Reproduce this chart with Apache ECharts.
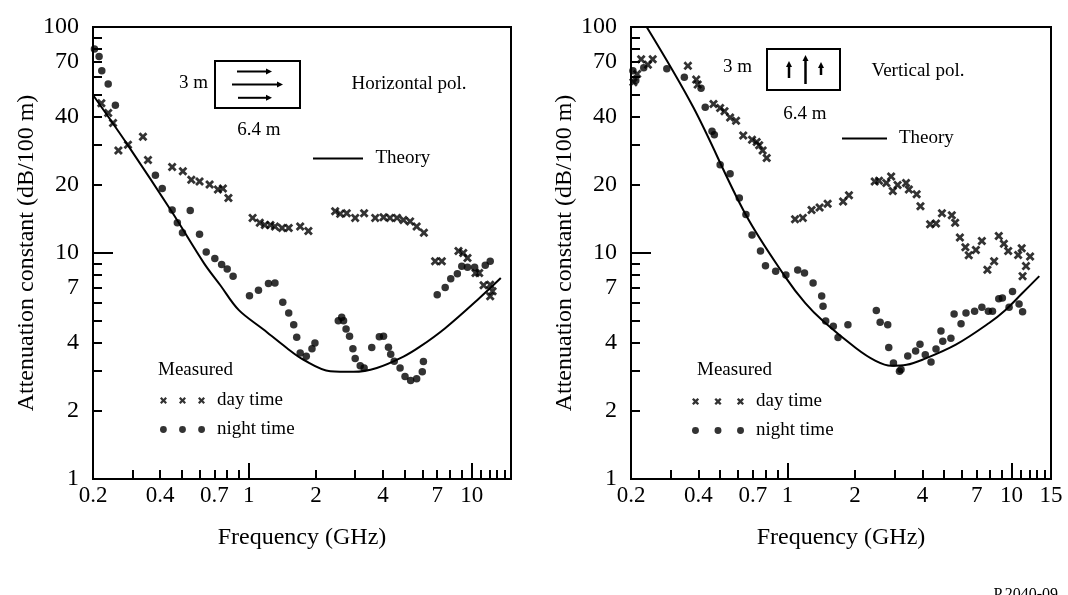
<!DOCTYPE html>
<html>
<head>
<meta charset="utf-8">
<title>Attenuation constant vs frequency</title>
<script src="https://cdn.jsdelivr.net/npm/echarts/dist/echarts.min.js"></script>
<style>
html, body { margin: 0; padding: 0; background: #fff; }
#chart { width: 1068px; height: 595px; }
</style>
</head>
<body>
<div id="chart"></div>
<script>
// 字体
const SERIF = 'Liberation Serif'

// 坐标轴范围与刻度
const X_MIN = 0.2
const X_MAX = 15
const Y_MIN = 1
const Y_MAX = 100
const xLabelsLeft = [0.2, 0.4, 0.7, 1, 2, 4, 7, 10]
const xLabelsRight = [0.2, 0.4, 0.7, 1, 2, 4, 7, 10, 15]
const xMinorTicks = [0.3, 0.4, 0.5, 0.6, 0.7, 0.8, 0.9, 2, 3, 4, 5, 6, 7, 8, 9, 11, 12, 13, 14]
const xMajorTicks = [1, 10]
const yLabels = [1, 2, 4, 7, 10, 20, 40, 70, 100]
const yMinorTicks = [2, 3, 4, 5, 6, 7, 8, 9, 20, 30, 40, 50, 60, 70, 80, 90]
const yMajorTicks = [10]

// 水平极化 - 理论曲线
const hTheoryFreq = [0.2, 0.29, 0.45, 0.63, 0.745, 0.9, 1.16, 1.48, 1.76, 2.32, 2.95, 3.75, 4.94, 5.88, 7.6, 10.6, 13.5]
const hTheoryAtt = [50, 29.5, 15.3, 9.0, 7.2, 5.6, 4.6, 3.8, 3.37, 3.0, 2.98, 3.1, 3.48, 3.86, 4.65, 6.2, 7.75]
// 水平极化 - 白天实测
const hDayFreq = [0.218, 0.234, 0.246, 0.26, 0.287, 0.335, 0.353, 0.453, 0.506, 0.552, 0.601, 0.667, 0.727, 0.765, 0.81,
	1.04, 1.12, 1.18, 1.25, 1.31, 1.41, 1.51, 1.70, 1.85, 2.44, 2.57, 2.75, 3.0, 3.29, 3.69, 4.02, 4.3, 4.62, 4.94, 5.29,
	5.66, 6.1, 6.85, 7.34, 8.72, 9.16, 9.57, 10.4, 10.8, 11.3, 12.1, 12.4, 12.1]
const hDayAtt = [46, 41.6, 37.6, 28.4, 30.1, 32.7, 25.8, 24.0, 23.0, 21.1, 20.7, 20.1, 19.1, 19.3, 17.5,
	14.3, 13.6, 13.3, 13.3, 13.1, 12.9, 12.9, 13.1, 12.5, 15.3, 14.9, 15.0, 14.3, 15.0, 14.3, 14.4, 14.3, 14.3, 14.0, 13.8,
	13.1, 12.3, 9.19, 9.19, 10.2, 10.0, 9.5, 8.16, 8.16, 7.2, 7.24, 6.77, 6.44]
// 水平极化 - 夜间实测
const hNightFreq = [0.203, 0.213, 0.219, 0.234, 0.252, 0.381, 0.409, 0.453, 0.478, 0.504, 0.546, 0.601, 0.644, 0.704, 0.755,
	0.80, 0.85, 1.007, 1.105, 1.225, 1.31, 1.42, 1.51, 1.59, 1.64, 1.70, 1.81, 1.92, 1.98, 2.52, 2.61, 2.66, 2.73, 2.83, 2.93,
	3.0, 3.16, 3.29, 3.56, 3.85, 4.02, 4.23, 4.33, 4.49, 4.77, 5.02, 5.32, 5.66, 6.0, 6.07, 7.0, 7.6, 8.05, 8.62, 9.02,
	9.57, 10.3, 11.5, 12.1]
const hNightAtt = [80, 74, 64, 56, 45, 22.1, 19.3, 15.5, 13.6, 12.3, 15.4, 12.1, 10.1, 9.45, 8.9,
	8.5, 7.9, 6.47, 6.84, 7.32, 7.36, 6.05, 5.42, 4.82, 4.24, 3.61, 3.49, 3.77, 4.0, 5.02, 5.19, 5.02, 4.61, 4.28, 3.77,
	3.41, 3.17, 3.1, 3.82, 4.26, 4.28, 3.83, 3.56, 3.32, 3.10, 2.84, 2.73, 2.78, 2.98, 3.31, 6.54, 7.04, 7.69, 8.1, 8.73,
	8.64, 8.64, 8.82, 9.19]

// 垂直极化 - 理论曲线
const vTheoryFreq = [0.235, 0.38, 0.65, 0.98, 1.2, 1.44, 2.03, 2.45, 2.9, 3.4, 4.0, 5.64, 7.94, 9.4, 11.1, 13.3]
const vTheoryAtt = [100, 44, 14.8, 7.8, 6.0, 5.0, 3.78, 3.35, 3.17, 3.2, 3.37, 3.93, 4.9, 5.6, 6.6, 7.9]
// 垂直极化 - 白天实测
const vDayFreq = [0.205, 0.213, 0.222, 0.238, 0.25, 0.359, 0.391, 0.397, 0.467, 0.50, 0.523, 0.554, 0.589, 0.634, 0.694,
	0.728, 0.747, 0.774, 0.807, 1.08, 1.17, 1.28, 1.39, 1.51, 1.77, 1.88, 2.45, 2.56, 2.76, 2.90, 2.95, 3.1, 3.38, 3.48, 3.77,
	3.92, 4.33, 4.6, 4.89, 5.41, 5.6, 5.88, 6.22, 6.44, 6.93, 7.37, 7.8, 8.36, 8.77, 9.24, 9.66, 10.7, 11.1, 11.6, 12.1, 11.2]
const vDayAtt = [57, 62, 72, 68, 72, 67.3, 58.5, 55.6, 45.6, 43.8, 42.4, 39.8, 38.5, 33.1, 31.7,
	31.0, 30.0, 28.4, 26.3, 14.1, 14.3, 15.5, 15.9, 16.5, 16.9, 18.0, 20.7, 20.9, 20.4, 21.8, 18.8, 20.0, 20.4, 19.1, 18.2,
	16.1, 13.4, 13.5, 15.0, 14.7, 13.6, 11.7, 10.6, 9.77, 10.3, 11.3, 8.44, 9.19, 11.9, 11.0, 10.2, 9.8, 10.5, 8.75, 9.65, 7.9]
// 垂直极化 - 夜间实测
const vNightFreq = [0.204, 0.21, 0.228, 0.289, 0.346, 0.411, 0.429, 0.46, 0.471, 0.50, 0.554, 0.609, 0.652, 0.694, 0.757,
	0.797, 0.885, 0.983, 1.11, 1.19, 1.30, 1.42, 1.44, 1.48, 1.60, 1.68, 1.86, 2.49, 2.59, 2.80, 2.83, 2.97, 3.16, 3.21, 3.44,
	3.73, 3.9, 4.12, 4.37, 4.60, 4.84, 4.93, 5.36, 5.54, 5.95, 6.26, 6.84, 7.37, 7.88, 8.22, 8.77, 9.1, 9.75, 10.1, 10.8, 11.2]
const vNightAtt = [64, 58, 66, 65.4, 59.9, 53.6, 44.1, 34.6, 33.4, 24.6, 22.4, 17.5, 14.8, 12.0, 10.2,
	8.78, 8.3, 8.0, 8.4, 8.15, 7.37, 6.45, 5.81, 5.0, 4.74, 4.23, 4.81, 5.56, 4.94, 4.82, 3.82, 3.26, 3.0, 3.05, 3.5,
	3.68, 3.95, 3.55, 3.29, 3.76, 4.52, 4.07, 4.2, 5.37, 4.86, 5.43, 5.52, 5.75, 5.52, 5.52, 6.27, 6.32, 5.75, 6.76, 5.94, 5.5]

const zip = (xs, ys) => xs.map((x, i) => [x, ys[i]])

// 图标
const CROSS = 'path://M0,2.2L2.2,0L5,2.8L7.8,0L10,2.2L7.2,5L10,7.8L7.8,10L5,7.2L2.2,10L0,7.8L2.8,5Z'
const LINE_ICON = 'path://M0,0H50V2H0Z'
const crossRow = (step) => {
	let d = 'path://'
	for (let k = 0; k < 3; k++) {
		const o = k * step
		d += `M${o},1.6L${o + 1.6},0L${o + 3.5},1.9L${o + 5.4},0L${o + 7},1.6L${o + 5.1},3.5L${o + 7},5.4L${o + 5.4},7L${o + 3.5},5.1L${o + 1.6},7L${o},5.4L${o + 1.9},3.5Z`
	}
	return d
}
const dotRow = (step) => {
	let d = 'path://'
	for (let k = 0; k < 3; k++) {
		const cx = 3.5 + k * step
		d += `M${cx - 3.4},3.5a3.4,3.4 0 1,0 6.8,0a3.4,3.4 0 1,0 -6.8,0Z`
	}
	return d
}

const fmt = (v) => String(+(+v).toPrecision(3))

function mainX(gi, labels) {
	return {
		type: 'log', logBase: 10, gridIndex: gi, position: 'bottom', min: X_MIN, max: X_MAX,
		name: 'Frequency (GHz)', nameLocation: 'middle', nameGap: 47,
		nameTextStyle: { fontSize: 24, fontFamily: SERIF, color: '#000' },
		axisLine: { lineStyle: { color: '#000', width: 2 } },
		axisTick: { inside: true, length: 9, customValues: xMinorTicks, lineStyle: { color: '#000', width: 2 } },
		axisLabel: { customValues: labels, fontSize: 23, fontFamily: SERIF, color: '#000', margin: 5, formatter: fmt },
		splitLine: { show: false },
	}
}
function tickX(gi) {
	return {
		type: 'log', logBase: 10, gridIndex: gi, position: 'bottom', min: X_MIN, max: X_MAX,
		axisLine: { show: false },
		axisTick: { inside: true, length: 16, customValues: xMajorTicks, lineStyle: { color: '#000', width: 2 } },
		axisLabel: { show: false },
		splitLine: { show: false },
	}
}
function mainY(gi) {
	return {
		type: 'log', logBase: 10, gridIndex: gi, position: 'left', min: Y_MIN, max: Y_MAX,
		name: 'Attenuation constant (dB/100 m)', nameLocation: 'middle', nameGap: 46,
		nameTextStyle: { fontSize: 24, fontFamily: SERIF, color: '#000' },
		axisLine: { lineStyle: { color: '#000', width: 2 } },
		axisTick: { inside: true, length: 9, customValues: yMinorTicks, lineStyle: { color: '#000', width: 2 } },
		axisLabel: { customValues: yLabels, fontSize: 24, fontFamily: SERIF, color: '#000', margin: 14, formatter: fmt },
		splitLine: { show: false },
	}
}
function tickY(gi) {
	return {
		type: 'log', logBase: 10, gridIndex: gi, position: 'left', min: Y_MIN, max: Y_MAX,
		axisLine: { show: false },
		axisTick: { inside: true, length: 20, customValues: yMajorTicks, lineStyle: { color: '#000', width: 2 } },
		axisLabel: { show: false },
		splitLine: { show: false },
	}
}

function theorySeries(xi, freq, att) {
	return {
		name: 'Theory', type: 'line', xAxisIndex: xi, yAxisIndex: xi,
		data: zip(freq, att), smooth: 0.35, showSymbol: false, silent: true,
		lineStyle: { color: '#000', width: 2 }, itemStyle: { color: '#000' },
	}
}
function daySeries(xi, freq, att) {
	return {
		name: 'day time', type: 'scatter', xAxisIndex: xi, yAxisIndex: xi,
		data: zip(freq, att), symbol: CROSS, symbolSize: 9, itemStyle: { color: '#000' },
	}
}
function nightSeries(xi, freq, att) {
	return {
		name: 'night time', type: 'scatter', xAxisIndex: xi, yAxisIndex: xi,
		data: zip(freq, att), symbol: 'circle', symbolSize: 7.5, itemStyle: { color: '#000' },
	}
}

// 注释
function txt(text, x, y, align) {
	return { type: 'text', x: x, y: y, style: { text: text, fontSize: 19, fontFamily: SERIF, fill: '#000', align: align, verticalAlign: 'middle' } }
}
function arrowH(x1, x2, y) {
	return [
		{ type: 'line', shape: { x1: x1, y1: y, x2: x2 - 4, y2: y }, style: { stroke: '#000', lineWidth: 2 } },
		{ type: 'polygon', shape: { points: [[x2, y], [x2 - 6, y - 3], [x2 - 6, y + 3]] }, style: { fill: '#000' } },
	]
}
function arrowV(x, y1, y2) {
	return [
		{ type: 'line', shape: { x1: x, y1: y1, x2: x, y2: y2 + 4 }, style: { stroke: '#000', lineWidth: 2.5 } },
		{ type: 'polygon', shape: { points: [[x, y2], [x - 3, y2 + 6], [x + 3, y2 + 6]] }, style: { fill: '#000' } },
	]
}

const legendText = { fontSize: 19, fontFamily: SERIF, color: '#000', padding: [0, 0, 0, 7] }

const option = {
	animation: false,
	backgroundColor: '#fff',
	textStyle: { fontFamily: SERIF, color: '#000' },
	grid: [
		{ left: 93, top: 27, width: 418, height: 452, show: true, borderColor: '#000', borderWidth: 2 },
		{ left: 631, top: 27, width: 420, height: 452, show: true, borderColor: '#000', borderWidth: 2 },
	],
	xAxis: [mainX(0, xLabelsLeft), tickX(0), mainX(1, xLabelsRight), tickX(1)],
	yAxis: [mainY(0), tickY(0), mainY(1), tickY(1)],
	legend: [
		{ left: 313, top: 149, padding: 0, selectedMode: false, itemWidth: 51, itemHeight: 2,
			data: [{ name: 'Theory', icon: LINE_ICON }], textStyle: legendText },
		{ left: 842, top: 129, padding: 0, selectedMode: false, itemWidth: 45, itemHeight: 2,
			data: [{ name: 'Theory', icon: LINE_ICON }], textStyle: legendText },
		{ left: 160, top: 391, padding: 0, orient: 'vertical', itemGap: 10, selectedMode: false, itemWidth: 45, itemHeight: 8,
			data: [{ name: 'day time', icon: crossRow(19) }, { name: 'night time', icon: dotRow(19) }], textStyle: legendText },
		{ left: 692, top: 392, padding: 0, orient: 'vertical', itemGap: 10, selectedMode: false, itemWidth: 52, itemHeight: 8,
			data: [{ name: 'day time', icon: crossRow(22) }, { name: 'night time', icon: dotRow(22) }], textStyle: legendText },
	],
	graphic: [
		// 水平极化示意
		{ type: 'rect', shape: { x: 215, y: 61, width: 85, height: 47 }, style: { fill: 'none', stroke: '#000', lineWidth: 2 } },
		...arrowH(237, 272, 71.5), ...arrowH(232, 283, 84.5), ...arrowH(238, 272, 97.8),
		txt('3 m', 208, 83, 'right'),
		txt('6.4 m', 259, 130, 'center'),
		txt('Horizontal pol.', 409, 84.5, 'center'),
		txt('Measured', 158, 370, 'left'),
		// 垂直极化示意
		{ type: 'rect', shape: { x: 767, y: 49, width: 73, height: 41 }, style: { fill: 'none', stroke: '#000', lineWidth: 2 } },
		...arrowV(789, 78, 61), ...arrowV(805.5, 84, 55), ...arrowV(821, 75, 62),
		txt('3 m', 752, 67, 'right'),
		txt('6.4 m', 805, 114, 'center'),
		txt('Vertical pol.', 918, 71.5, 'center'),
		txt('Measured', 697, 370, 'left'),
		{ type: 'text', x: 1058, y: 587, style: { text: 'P.2040-09', fontSize: 16, fontFamily: SERIF, fill: '#000', align: 'right', verticalAlign: 'top' } },
	],
	series: [
		theorySeries(0, hTheoryFreq, hTheoryAtt),
		daySeries(0, hDayFreq, hDayAtt),
		nightSeries(0, hNightFreq, hNightAtt),
		theorySeries(2, vTheoryFreq, vTheoryAtt),
		daySeries(2, vDayFreq, vDayAtt),
		nightSeries(2, vNightFreq, vNightAtt),
	],
}

const myChart = echarts.init(document.getElementById('chart'))
myChart.setOption(option)
</script>
</body>
</html>
